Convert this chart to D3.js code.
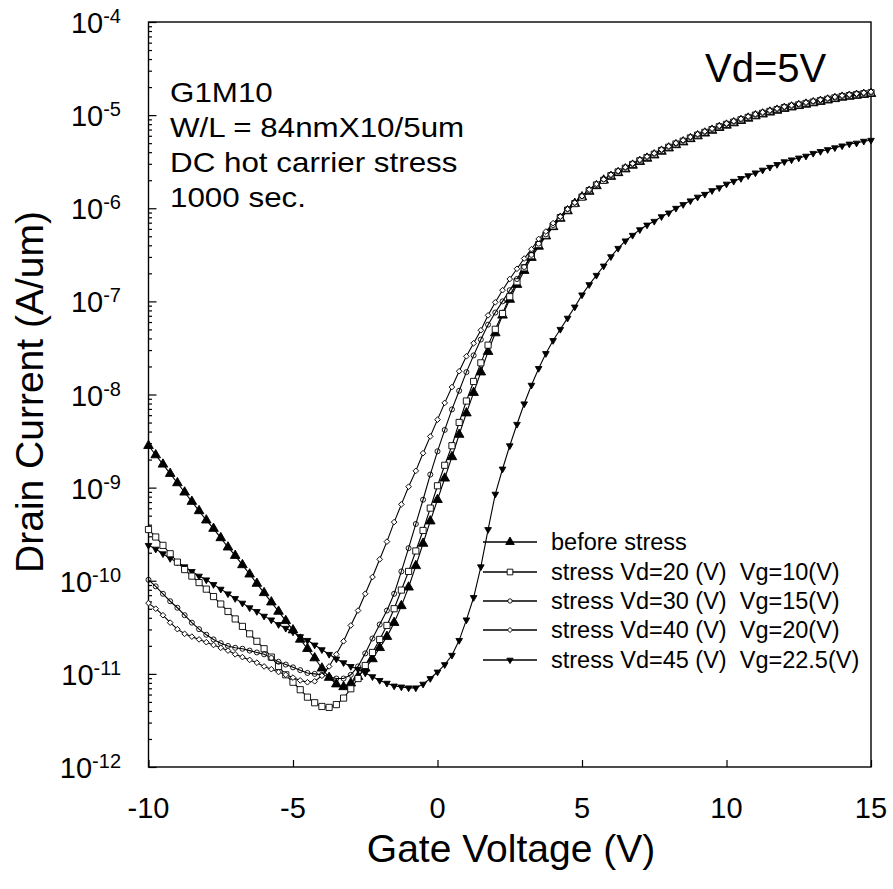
<!DOCTYPE html>
<html><head><meta charset="utf-8">
<script src="https://cdn.jsdelivr.net/npm/d3@7"></script>
<style>body{margin:0;background:#fff;} text{font-family:"Liberation Sans",Arial,sans-serif;fill:#000;white-space:pre;}</style>
</head><body>
<script>
// Gate voltage sweep: -10 V .. 15 V in 0.25 V steps (101 points)
const gateVoltage = d3.range(0, 101).map(i => -10 + i * 0.25);

// log10(drain current, A/um), one value per gate voltage
const beforeStress = [
-8.55,-8.65,-8.75,-8.85,-8.95,-9.05,-9.15,-9.25,-9.35,-9.44,
-9.54,-9.64,-9.73,-9.83,-9.93,-10.03,-10.13,-10.23,-10.33,-10.43,
-10.53,-10.63,-10.73,-10.83,-10.94,-11.04,-11.11,-11.14,-11.10,-11.03,
-10.94,-10.84,-10.72,-10.60,-10.45,-10.27,-10.07,-9.84,-9.60,-9.36,
-9.13,-8.90,-8.67,-8.43,-8.20,-7.98,-7.76,-7.54,-7.34,-7.15,
-6.98,-6.82,-6.67,-6.53,-6.41,-6.30,-6.20,-6.11,-6.03,-5.95,
-5.88,-5.82,-5.76,-5.70,-5.66,-5.62,-5.58,-5.54,-5.50,-5.465,
-5.43,-5.39,-5.355,-5.32,-5.29,-5.255,-5.225,-5.195,-5.165,-5.135,
-5.11,-5.085,-5.06,-5.035,-5.01,-4.99,-4.97,-4.95,-4.93,-4.915,
-4.90,-4.885,-4.87,-4.855,-4.84,-4.825,-4.81,-4.80,-4.79,-4.78,
-4.77];
const stressVd20 = [
-9.45,-9.53,-9.62,-9.71,-9.80,-9.88,-9.95,-10.02,-10.09,-10.17,
-10.25,-10.33,-10.41,-10.49,-10.57,-10.65,-10.73,-10.82,-10.92,-11.01,
-11.09,-11.17,-11.25,-11.31,-11.35,-11.36,-11.33,-11.26,-11.16,-11.05,
-10.91,-10.77,-10.63,-10.48,-10.30,-10.10,-9.90,-9.68,-9.46,-9.22,
-8.98,-8.76,-8.55,-8.30,-8.07,-7.86,-7.66,-7.47,-7.30,-7.13,
-6.95,-6.79,-6.64,-6.51,-6.39,-6.29,-6.19,-6.10,-6.02,-5.95,
-5.88,-5.81,-5.75,-5.70,-5.65,-5.61,-5.57,-5.53,-5.49,-5.455,
-5.42,-5.38,-5.345,-5.31,-5.28,-5.245,-5.215,-5.185,-5.155,-5.125,
-5.10,-5.075,-5.05,-5.025,-5.00,-4.98,-4.96,-4.94,-4.92,-4.905,
-4.89,-4.875,-4.86,-4.845,-4.83,-4.815,-4.80,-4.79,-4.78,-4.77,
-4.76];
const stressVd30 = [
-9.99,-10.06,-10.14,-10.22,-10.29,-10.37,-10.45,-10.52,-10.58,-10.63,
-10.67,-10.70,-10.72,-10.73,-10.75,-10.77,-10.79,-10.83,-10.87,-10.90,
-10.93,-10.96,-10.99,-11.00,-11.01,-11.03,-11.05,-11.05,-11.01,-10.92,
-10.78,-10.62,-10.47,-10.32,-10.14,-9.90,-9.65,-9.39,-9.13,-8.86,
-8.61,-8.38,-8.16,-7.96,-7.76,-7.58,-7.41,-7.25,-7.12,-7.00,
-6.88,-6.76,-6.63,-6.50,-6.38,-6.28,-6.18,-6.09,-6.01,-5.94,
-5.87,-5.81,-5.75,-5.69,-5.645,-5.605,-5.565,-5.525,-5.485,-5.45,
-5.415,-5.375,-5.34,-5.305,-5.275,-5.24,-5.21,-5.18,-5.15,-5.12,
-5.095,-5.07,-5.045,-5.02,-4.995,-4.975,-4.955,-4.935,-4.915,-4.90,
-4.885,-4.87,-4.855,-4.84,-4.825,-4.81,-4.795,-4.785,-4.775,-4.765,
-4.755];
const stressVd40 = [
-10.24,-10.30,-10.37,-10.45,-10.52,-10.57,-10.60,-10.63,-10.66,-10.69,
-10.72,-10.75,-10.79,-10.82,-10.85,-10.88,-10.92,-10.95,-10.98,-11.01,
-11.04,-11.07,-11.09,-11.08,-11.02,-10.92,-10.79,-10.65,-10.48,-10.32,
-10.14,-9.96,-9.77,-9.58,-9.37,-9.18,-8.99,-8.82,-8.63,-8.45,
-8.27,-8.09,-7.92,-7.75,-7.59,-7.45,-7.31,-7.15,-7.01,-6.88,
-6.76,-6.65,-6.54,-6.44,-6.33,-6.25,-6.16,-6.09,-6.01,-5.94,
-5.87,-5.80,-5.74,-5.69,-5.64,-5.60,-5.56,-5.52,-5.48,-5.445,
-5.41,-5.37,-5.335,-5.30,-5.27,-5.235,-5.205,-5.175,-5.145,-5.115,
-5.09,-5.065,-5.04,-5.015,-4.99,-4.97,-4.95,-4.93,-4.91,-4.895,
-4.88,-4.865,-4.85,-4.835,-4.82,-4.805,-4.79,-4.78,-4.77,-4.76,
-4.75];
const stressVd45 = [
-9.62,-9.66,-9.71,-9.76,-9.80,-9.85,-9.90,-9.95,-9.99,-10.04,
-10.09,-10.14,-10.19,-10.24,-10.29,-10.33,-10.38,-10.42,-10.47,-10.51,
-10.55,-10.60,-10.64,-10.69,-10.74,-10.79,-10.84,-10.88,-10.92,-10.95,
-10.99,-11.03,-11.07,-11.10,-11.13,-11.14,-11.15,-11.15,-11.11,-11.05,
-10.98,-10.90,-10.80,-10.64,-10.42,-10.18,-9.85,-9.45,-9.07,-8.80,
-8.55,-8.32,-8.10,-7.90,-7.72,-7.56,-7.42,-7.30,-7.18,-7.06,
-6.93,-6.82,-6.72,-6.62,-6.52,-6.43,-6.35,-6.29,-6.23,-6.18,
-6.14,-6.09,-6.05,-6.00,-5.96,-5.92,-5.88,-5.85,-5.81,-5.78,
-5.74,-5.71,-5.68,-5.65,-5.62,-5.59,-5.56,-5.53,-5.50,-5.48,
-5.46,-5.44,-5.41,-5.39,-5.37,-5.35,-5.33,-5.31,-5.30,-5.28,
-5.27];

const seriesNames = ["before stress","stress Vd=20 (V)  Vg=10(V)","stress Vd=30 (V)  Vg=15(V)","stress Vd=40 (V)  Vg=20(V)","stress Vd=45 (V)  Vg=22.5(V)"];
const xTickValues = [-10,-5,0,5,10,15];
const yTickExponents = [-12,-11,-10,-9,-8,-7,-6,-5,-4];
const annotationLines = ["G1M10","W/L = 84nmX10/5um","DC hot carrier stress","1000 sec."];
const biasLabel = "Vd=5V";

const W = 893, H = 889;
const svg = d3.select("body").append("svg").attr("width", W).attr("height", H);
const x = d3.scaleLinear().domain([-10, 15]).range([148.5, 871]);
const y = d3.scaleLog().domain([1e-12, 1e-4]).range([767, 22]);

const styles = [
  {data: beforeStress, type: d3.symbolTriangle, size: 40, rot: 0, fill: "#000", lsize: 32},
  {data: stressVd20, type: d3.symbolSquare, size: 38, rot: 0, fill: "#fff", lsize: 32},
  {data: stressVd30, type: d3.symbolCircle, size: 20, rot: 0, fill: "none", lsize: 15},
  {data: stressVd40, type: d3.symbolSquare, size: 16, rot: 45, fill: "#fff", lsize: 13},
  {data: stressVd45, type: d3.symbolTriangle, size: 19, rot: 180, fill: "#000", lsize: 17}
];

// axes
const majors = yTickExponents.map(e => Math.pow(10, e));
const minors = [];
yTickExponents.slice(0, -1).forEach(e => { for (let k = 2; k <= 9; k++) minors.push(k * Math.pow(10, e)); });

const gy = svg.append("g").attr("transform", "translate(148.5,0)");
gy.call(d3.axisLeft(y).tickValues(majors).tickSizeInner(-8).tickSizeOuter(0).tickFormat(""));
gy.select(".domain").remove();
const gym = svg.append("g").attr("transform", "translate(148.5,0)");
gym.call(d3.axisLeft(y).tickValues(minors).tickSizeInner(-3.5).tickSizeOuter(0).tickFormat(""));
gym.select(".domain").remove();
const gx = svg.append("g").attr("transform", "translate(0,767)");
gx.call(d3.axisBottom(x).tickValues(xTickValues).tickSizeInner(-7).tickSizeOuter(0).tickFormat(""));
gx.select(".domain").remove();
svg.selectAll(".tick line").attr("stroke", "#000").attr("stroke-width", 1.2);

// frame
svg.append("rect").attr("x", 148.5).attr("y", 22).attr("width", 871 - 148.5).attr("height", 767 - 22)
  .attr("fill", "none").attr("stroke", "#000").attr("stroke-width", 1.4);

// y tick labels
yTickExponents.forEach(e => {
  const t = svg.append("text").attr("x", 121).attr("y", y(Math.pow(10, e)) + 11)
    .attr("text-anchor", "end").style("font-size", "29px");
  t.append("tspan").text("10");
  t.append("tspan").attr("dy", -10).style("font-size", "20px").text(String(e));
});
// x tick labels
xTickValues.forEach(v => {
  svg.append("text").attr("x", x(v)).attr("y", 818).attr("text-anchor", "middle")
    .style("font-size", "29px").text(String(v));
});

// axis titles
svg.append("text").attr("x", 511).attr("y", 862).attr("text-anchor", "middle")
  .style("font-size", "39px").text("Gate Voltage (V)");
svg.append("text").attr("transform", "translate(43,392) rotate(-90)").attr("text-anchor", "middle")
  .style("font-size", "39px").text("Drain Current (A/um)");

// series
const line = d3.line().x((d, i) => x(gateVoltage[i])).y(d => y(Math.pow(10, d)));
const order = [4, 0, 1, 2, 3];
order.forEach(si => {
  const s = styles[si];
  svg.append("path").attr("d", line(s.data)).attr("fill", "none").attr("stroke", "#000").attr("stroke-width", 1.1);
});
order.forEach(si => {
  const s = styles[si];
  const sym = d3.symbol().type(s.type).size(s.size);
  svg.append("g").selectAll("path").data(s.data).join("path")
    .attr("transform", (d, i) => `translate(${x(gateVoltage[i])},${y(Math.pow(10, d))}) rotate(${s.rot})`)
    .attr("d", sym())
    .attr("fill", s.fill).attr("stroke", "#000").attr("stroke-width", 0.9);
});

// legend
const legRows = [542, 572, 601, 630, 660];
seriesNames.forEach((name, i) => {
  const s = styles[i];
  const ly = legRows[i];
  svg.append("line").attr("x1", 483).attr("x2", 537).attr("y1", ly).attr("y2", ly)
    .attr("stroke", "#000").attr("stroke-width", 1.3);
  svg.append("path").attr("d", d3.symbol().type(s.type).size(s.lsize)())
    .attr("transform", `translate(510,${ly}) rotate(${s.rot})`)
    .attr("fill", s.fill === "none" ? "#fff" : s.fill).attr("stroke", "#000").attr("stroke-width", 0.9);
  svg.append("text").attr("x", 551).attr("y", ly + 8).attr("xml:space", "preserve")
    .style("font-size", "23.5px").text(name);
});

// annotations
const ann = svg.append("g").attr("transform", "translate(170,0) scale(1.12,1)");
annotationLines.forEach((t, i) => {
  ann.append("text").attr("x", 0).attr("y", 102 + i * 35).style("font-size", "28px").text(t);
});
svg.append("text").attr("x", 705).attr("y", 82).style("font-size", "40px").text(biasLabel);
</script>
</body></html>
